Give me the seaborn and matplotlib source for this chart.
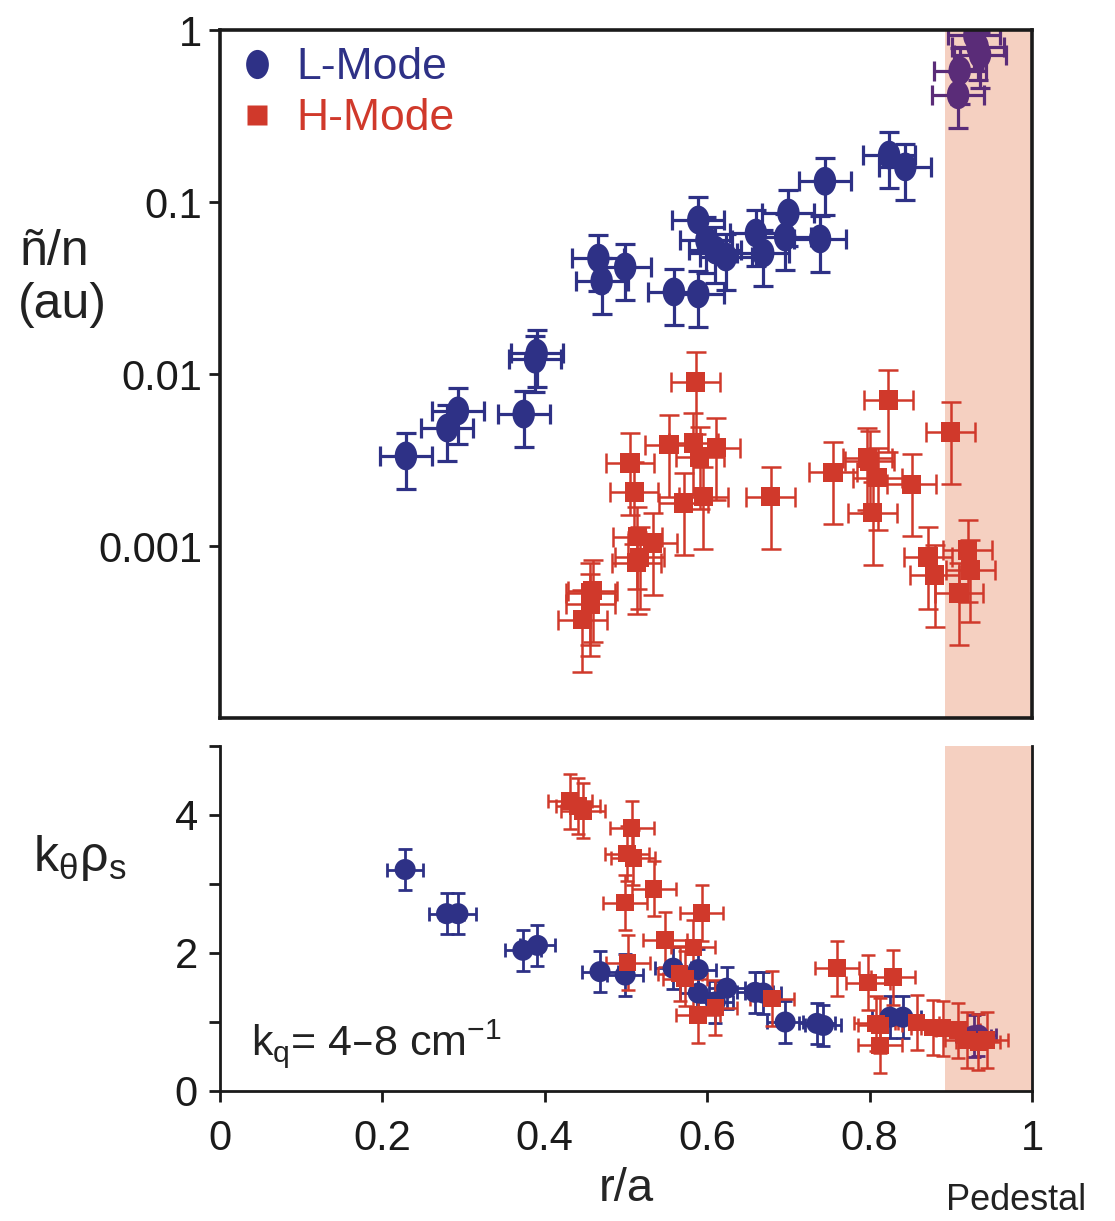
import numpy as np
import pandas as pd
import matplotlib
matplotlib.use("Agg")
import matplotlib.pyplot as plt
from matplotlib.path import Path
from matplotlib.lines import Line2D
from matplotlib.ticker import FixedLocator, FixedFormatter
import seaborn as sns

# ---------------- data ----------------
# top panel: density fluctuation amplitude (au) vs r/a
l_top_r = [0.229, 0.280, 0.293, 0.374, 0.390, 0.388, 0.466, 0.470, 0.499, 0.559,
           0.589, 0.589, 0.599, 0.610, 0.623, 0.660, 0.669, 0.696, 0.700, 0.739,
           0.745, 0.824, 0.844, 0.929, 0.933, 0.936, 0.911, 0.909]
l_top_n = [0.00334, 0.00485, 0.0061, 0.00585, 0.0132, 0.0122, 0.0472, 0.0347, 0.0419, 0.030,
           0.0292, 0.0786, 0.060, 0.0526, 0.0479, 0.066, 0.0505, 0.0626, 0.0863, 0.061,
           0.132, 0.1875, 0.16, 0.93, 0.80, 0.72, 0.58, 0.42]
h_top_r = [0.586, 0.553, 0.505, 0.583, 0.591, 0.611, 0.510, 0.571, 0.595, 0.514,
           0.533, 0.517, 0.513, 0.456, 0.459, 0.446, 0.456, 0.678, 0.755, 0.823,
           0.797, 0.810, 0.804, 0.852, 0.900, 0.872, 0.880, 0.921, 0.924, 0.910, 0.800]
h_top_n = [0.00898, 0.00387, 0.00304, 0.00397, 0.00329, 0.00372, 0.00206, 0.00178, 0.00193, 0.00113,
           0.00104, 0.00086, 0.00080, 0.000533, 0.00055, 0.000372, 0.00046, 0.00193, 0.00269, 0.00706,
           0.00325, 0.00249, 0.00156, 0.00229, 0.00460, 0.000863, 0.000678, 0.000948, 0.000725, 0.000533, 0.0031]

# bottom panel: k_theta rho_s vs r/a
l_bot_r = [0.228, 0.279, 0.293, 0.373, 0.391, 0.468, 0.499, 0.558, 0.589, 0.589,
           0.610, 0.624, 0.659, 0.669, 0.696, 0.735, 0.743, 0.825, 0.841, 0.934, 0.928]
l_bot_k = [3.21, 2.57, 2.57, 2.04, 2.11, 1.73, 1.68, 1.78, 1.76, 1.42,
           1.29, 1.49, 1.43, 1.42, 1.00, 0.98, 0.95, 1.07, 1.07, 0.81, 0.80]
h_bot_r = [0.431, 0.441, 0.447, 0.507, 0.501, 0.509, 0.499, 0.502, 0.534, 0.593,
           0.548, 0.583, 0.573, 0.566, 0.589, 0.610, 0.680, 0.760, 0.798, 0.829,
           0.813, 0.808, 0.813, 0.858, 0.878, 0.890, 0.909, 0.920, 0.934, 0.944]
h_bot_k = [4.20, 4.13, 4.06, 3.81, 3.44, 3.38, 2.73, 1.86, 2.93, 2.58,
           2.19, 2.08, 1.63, 1.70, 1.10, 1.21, 1.34, 1.78, 1.57, 1.65,
           0.95, 0.98, 0.66, 0.99, 0.92, 0.91, 0.88, 0.74, 0.71, 0.74]

# error estimates
l_top_rel_err = 0.36   # relative (linear) error, L-mode amplitude
h_top_rel_err = 0.50   # relative (linear) error, H-mode amplitude
l_top_r_err = 0.032
h_top_r_err = 0.030
l_bot_k_err = 0.30
h_bot_k_err = 0.40
l_bot_r_err = 0.022
h_bot_r_err = 0.027

pedestal_start = 0.893
modes = ["L-Mode", "H-Mode"]
top_ticks = [1, 0.1, 0.01, 0.001]
top_tick_labels = ["1", "0.1", "0.01", "0.001"]
x_ticks = [0, 0.2, 0.4, 0.6, 0.8, 1.0]
x_tick_labels = ["0", "0.2", "0.4", "0.6", "0.8", "1"]
bot_ticks = [0, 1, 2, 3, 4, 5]
bot_tick_labels = ["0", "", "2", "", "4", ""]

# ---------------- style ----------------
BLUE = "#2E3186"
RED = "#D0392B"
PURPLE = "#5A2C78"
SHADE = "#F5D0C1"

sns.set_theme(style="ticks")
FONT = ["Liberation Sans", "DejaVu Sans"]
plt.rcParams["font.family"] = FONT
plt.rcParams["text.color"] = "#222222"

def group(r, v, mode):
    df = pd.DataFrame({"r": r, "v": v, "mode": mode})
    df["grp"] = np.where((df["mode"] == "L-Mode") & (df["r"] > pedestal_start), "L-ped", df["mode"])
    return df

top = pd.concat([group(l_top_r, l_top_n, "L-Mode"), group(h_top_r, h_top_n, "H-Mode")], ignore_index=True)
bot = pd.concat([group(l_bot_r, l_bot_k, "L-Mode"), group(h_bot_r, h_bot_k, "H-Mode")], ignore_index=True)

palette = {"L-Mode": BLUE, "L-ped": PURPLE, "H-Mode": RED}

# vertically elongated ellipse marker
circ = Path.unit_circle()
ellipse = Path(circ.vertices * np.array([0.78, 1.0]), circ.codes)

fig = plt.figure(figsize=(11.15, 12.21), dpi=100)
ax1 = fig.add_axes([220 / 1115, 1 - 718 / 1221, 812 / 1115, 688 / 1221])
ax2 = fig.add_axes([220 / 1115, 1 - 1091 / 1221, 812 / 1115, 345 / 1221])

for ax in (ax1, ax2):
    ax.axvspan(pedestal_start, 1.0, color=SHADE, lw=0, zorder=0)

# ---- top panel ----
for grp, col in palette.items():
    d = top[top["grp"] == grp]
    if d.empty:
        continue
    rel = l_top_rel_err if grp != "H-Mode" else h_top_rel_err
    xe = l_top_r_err if grp != "H-Mode" else h_top_r_err
    lw = 2.3 if grp != "H-Mode" else 1.8
    ax1.errorbar(d["r"], d["v"], xerr=xe, yerr=d["v"] * rel, fmt="none",
                 ecolor=col, elinewidth=lw, capsize=7, capthick=lw, zorder=2)
sns.scatterplot(data=top[top["mode"] == "L-Mode"], x="r", y="v", hue="grp",
                palette=palette, marker=ellipse, s=430, linewidth=0,
                legend=False, ax=ax1, zorder=3)
sns.scatterplot(data=top[top["mode"] == "H-Mode"], x="r", y="v", hue="grp",
                palette=palette, marker="s", s=190, linewidth=0,
                legend=False, ax=ax1, zorder=3)

ax1.set_yscale("log")
ax1.set_ylim(1e-4, 1)
ax1.set_xlim(0, 1)
ax1.yaxis.set_major_locator(FixedLocator(top_ticks))
ax1.yaxis.set_major_formatter(FixedFormatter(top_tick_labels))
ax1.yaxis.set_minor_locator(FixedLocator([]))
ax1.set_xticks([])
ax1.set_xlabel("")
ax1.set_ylabel("")
for s in ax1.spines.values():
    s.set_linewidth(2.6)
    s.set_color("#1a1a1a")
    s.set_zorder(5)
ax1.tick_params(axis="y", direction="out", length=8, width=2, labelsize=30, pad=5,
                colors="#1a1a1a")

handles = [Line2D([], [], marker=ellipse, ls="none", ms=21, mfc=BLUE, mec="none"),
           Line2D([], [], marker="s", ls="none", ms=15, mfc=RED, mec="none")]
ax1.legend(handles, modes, loc="upper left", bbox_to_anchor=(-0.026, 1.02),
           frameon=False, labelcolor=[BLUE, RED], handletextpad=0.3,
           labelspacing=0.22, borderaxespad=0.3, handlelength=1.2,
           prop={"family": FONT, "size": 32})

fig.text(20 / 1115, 1 - 252 / 1221, "ñ/n", fontsize=36, va="center", ha="left")
fig.text(18 / 1115, 1 - 305 / 1221, "(au)", fontsize=36, va="center", ha="left")

# ---- bottom panel ----
for grp, col in palette.items():
    d = bot[bot["grp"] == grp]
    if d.empty:
        continue
    ye = l_bot_k_err if grp != "H-Mode" else h_bot_k_err
    xe = l_bot_r_err if grp != "H-Mode" else h_bot_r_err
    lw = 2.0 if grp != "H-Mode" else 1.8
    ax2.errorbar(d["r"], d["v"], xerr=xe, yerr=ye, fmt="none",
                 ecolor=col, elinewidth=lw, capsize=5, capthick=lw, zorder=2)
sns.scatterplot(data=bot[bot["mode"] == "L-Mode"], x="r", y="v", hue="grp",
                palette=palette, marker="o", s=230, linewidth=0,
                legend=False, ax=ax2, zorder=3)
sns.scatterplot(data=bot[bot["mode"] == "H-Mode"], x="r", y="v", hue="grp",
                palette=palette, marker="s", s=160, linewidth=0,
                legend=False, ax=ax2, zorder=3)

ax2.set_xlim(0, 1)
ax2.set_ylim(0, 5)
ax2.set_xticks(x_ticks)
ax2.set_xticklabels(x_tick_labels)
ax2.yaxis.set_major_locator(FixedLocator(bot_ticks))
ax2.yaxis.set_major_formatter(FixedFormatter(bot_tick_labels))
ax2.spines["top"].set_visible(False)
for k in ("left", "bottom", "right"):
    ax2.spines[k].set_linewidth(2.0)
    ax2.spines[k].set_color("#1a1a1a")
    ax2.spines[k].set_zorder(5)
ax2.tick_params(axis="y", direction="out", length=8, width=2, labelsize=30, pad=8,
                colors="#1a1a1a")
ax2.tick_params(axis="x", direction="out", length=8, width=2, labelsize=30, pad=12,
                colors="#1a1a1a")
ax2.set_xlabel("r/a", fontsize=34, labelpad=6)
ax2.set_ylabel("")

fig.text(33 / 1115, 1 - 858 / 1221, r"k$_\mathregular{θ}$ρ$_\mathregular{s}$",
         fontsize=36, va="center", ha="left")
ax2.text(0.038, 0.105, r"k$_\mathregular{q}$= 4–8 cm$^\mathregular{-1}$",
         transform=ax2.transAxes, fontsize=31, ha="left", va="baseline")
fig.text(946 / 1115, 1 - 1200 / 1221, "Pedestal", fontsize=26, ha="left", va="center")

fig.savefig("out.png", dpi=100)
